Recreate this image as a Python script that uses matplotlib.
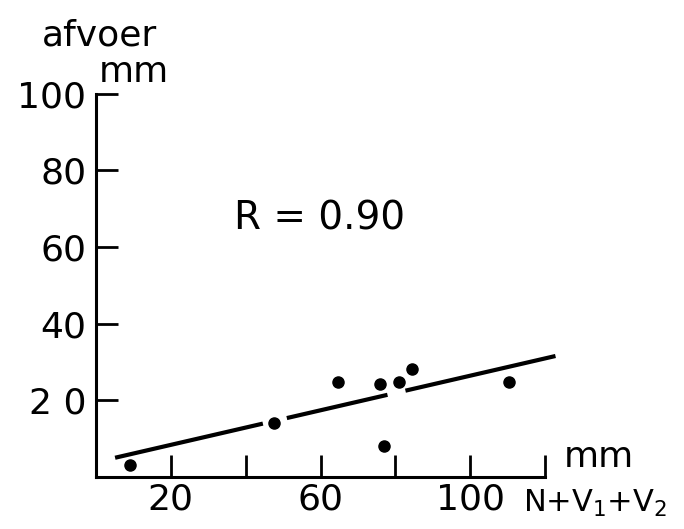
import matplotlib
matplotlib.use("Agg")
import matplotlib.pyplot as plt
import numpy as np

# data
x_pts = [9.2, 47.7, 64.6, 76.0, 80.9, 84.4, 110.4, 77.1]
y_pts = [3.0, 14.0, 24.6, 24.1, 24.8, 28.0, 24.8, 8.0]
fit_slope = 0.226
fit_intercept = 3.75
fit_segments = [(5.1, 44.6), (51.0, 77.9), (82.7, 122.8)]
x_ticks = [20, 40, 60, 80, 100, 120]
x_ticklabels = ["20", "", "60", "", "100", ""]
y_ticks = [20, 40, 60, 80, 100]
y_ticklabels = ["2 0", "40", "60", "80", "100"]

plt.rcParams['font.family'] = ['DejaVu Sans']
fig = plt.figure(figsize=(6.84, 5.29), dpi=100)
H = 529
W = 684
ax = fig.add_axes([96/W, 52.5/H, 449/W, 382.5/H])
ax.set_xlim(0, 120)
ax.set_ylim(0, 100)
for s in ['top', 'right']:
    ax.spines[s].set_visible(False)
for s in ['left', 'bottom']:
    ax.spines[s].set_linewidth(2.2)
    ax.spines[s].set_color('black')

ax.set_xticks(x_ticks)
ax.set_xticklabels(x_ticklabels)
ax.set_yticks(y_ticks)
ax.set_yticklabels(y_ticklabels)
ax.tick_params(axis='both', direction='in', length=16, width=2, labelsize=26, colors='black')
ax.tick_params(axis='x', pad=4)
ax.tick_params(axis='y', pad=7)

for x0, x1 in fit_segments:
    xs = np.array([x0, x1])
    ax.plot(xs, fit_slope * xs + fit_intercept, color='black', lw=3.0, solid_capstyle='butt', clip_on=False)

ax.plot(x_pts, y_pts, 'o', color='black', ms=8, clip_on=False)

ax.text(320/W, 1 - 230/H, "R = 0.90", transform=fig.transFigure,
        ha='center', va='baseline', fontsize=28)
fig.text(99/W, 1 - 45/H, "afvoer", ha='center', va='baseline', fontsize=26)
fig.text(134/W, 1 - 82/H, "mm", ha='center', va='baseline', fontsize=26)
fig.text(599/W, 1 - 467/H, "mm", ha='center', va='baseline', fontsize=26)
fig.text(523/W, 1 - 512/H, "N+V$_1$+V$_2$", ha='left', va='baseline', fontsize=22)

fig.savefig("out.png", dpi=100)
